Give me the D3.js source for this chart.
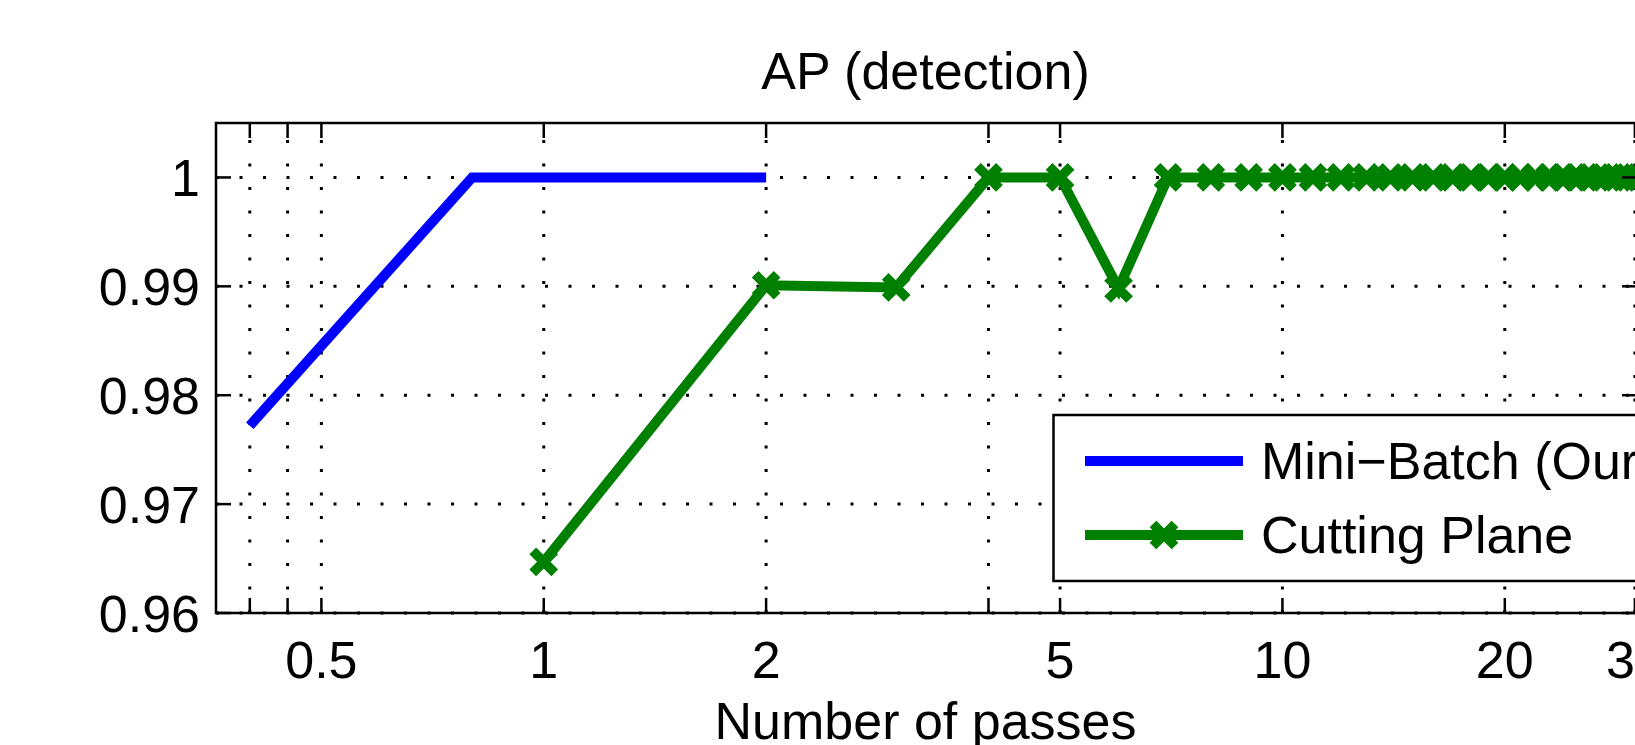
<!DOCTYPE html>
<html>
<head>
<meta charset="utf-8">
<script src="https://cdn.jsdelivr.net/npm/d3@7"></script>
<style>
  body { margin: 0; background: #fff; }
  svg text { font-family: "Liberation Sans", Arial, Helvetica, sans-serif; font-size: 52px; fill: #000; }
</style>
</head>
<body>
<svg id="chart" width="1635" height="745"></svg>
<script>
// ticks
const xTicks = [0.4, 0.45, 0.5, 1, 2, 4, 5, 10, 20, 30];
const xTickLabels = ["", "", "0.5", "1", "2", "", "5", "10", "20", "30"];
const yTicks = [0.96, 0.97, 0.98, 0.99, 1];
const yTickLabels = ["0.96", "0.97", "0.98", "0.99", "1"];

// series
const seriesNames = ["Mini\u2212Batch (Ours)", "Cutting Plane"];
const miniBatchPasses = [0.4, 0.8, 1.2, 1.6, 2];
const miniBatchAP = [0.9772, 1, 1, 1, 1];
const cuttingPlanePasses = [1, 2, 3, 4, 5, 6, 7, 8, 9, 10, 11, 12, 13, 14, 15,
  16, 17, 18, 19, 20, 21, 22, 23, 24, 25, 26, 27, 28, 29, 30];
const cuttingPlaneAP = [0.9647, 0.9901, 0.9899, 1, 1, 0.9898, 1, 1, 1, 1, 1, 1, 1, 1, 1,
  1, 1, 1, 1, 1, 1, 1, 1, 1, 1, 1, 1, 1, 1, 1];

const margin = {left: 216, right: 1637, top: 123, bottom: 613};
const blue = "#0000ff", green = "#008000";

const svg = d3.select("#chart");

const x = d3.scaleLog().domain([0.36, 30.2]).range([margin.left, margin.right]);
const y = d3.scaleLinear().domain([0.96, 1.005]).range([margin.bottom, margin.top]);

svg.append("clipPath").attr("id", "plotclip")
  .append("rect")
  .attr("x", margin.left).attr("y", margin.top)
  .attr("width", margin.right - margin.left).attr("height", margin.bottom - margin.top);

// dotted grid
const grid = svg.append("g")
  .attr("stroke", "#000").attr("stroke-width", 3).attr("stroke-dasharray", "3 20.5");
grid.selectAll("line.gx").data(xTicks).enter().append("line")
  .attr("x1", d => x(d)).attr("x2", d => x(d))
  .attr("y1", margin.bottom).attr("y2", margin.top);
grid.selectAll("line.gy").data(yTicks).enter().append("line")
  .attr("x1", margin.left).attr("x2", margin.right)
  .attr("y1", d => y(d)).attr("y2", d => y(d));

// lines
const line = d3.line().x(d => x(d[0])).y(d => y(d[1]));
const plot = svg.append("g").attr("clip-path", "url(#plotclip)");

plot.append("path")
  .datum(d3.zip(miniBatchPasses, miniBatchAP))
  .attr("d", line)
  .attr("fill", "none").attr("stroke", blue).attr("stroke-width", 10)
  .attr("stroke-linejoin", "miter");

const cp = d3.zip(cuttingPlanePasses, cuttingPlaneAP);
plot.append("path")
  .datum(cp)
  .attr("d", line)
  .attr("fill", "none").attr("stroke", green).attr("stroke-width", 10)
  .attr("stroke-linejoin", "miter");

const xMark = "M-11,-11L11,11M-11,11L11,-11";
svg.append("g").selectAll("path").data(cp).enter().append("path")
  .attr("d", xMark)
  .attr("transform", d => "translate(" + x(d[0]) + "," + y(d[1]) + ")")
  .attr("fill", "none").attr("stroke", green).attr("stroke-width", 9.5);

// axes box + ticks
const tickLen = 15;
const axes = svg.append("g").attr("stroke", "#000").attr("stroke-width", 2.5);
axes.append("rect")
  .attr("x", margin.left).attr("y", margin.top)
  .attr("width", margin.right - margin.left).attr("height", margin.bottom - margin.top)
  .attr("fill", "none");
xTicks.forEach(function(d) {
  axes.append("line").attr("x1", x(d)).attr("x2", x(d))
    .attr("y1", margin.bottom).attr("y2", margin.bottom - tickLen);
  axes.append("line").attr("x1", x(d)).attr("x2", x(d))
    .attr("y1", margin.top).attr("y2", margin.top + tickLen);
});
yTicks.forEach(function(d) {
  axes.append("line").attr("x1", margin.left).attr("x2", margin.left + tickLen)
    .attr("y1", y(d)).attr("y2", y(d));
  axes.append("line").attr("x1", margin.right).attr("x2", margin.right - tickLen)
    .attr("y1", y(d)).attr("y2", y(d));
});

// tick labels
svg.append("g").selectAll("text").data(xTicks).enter().append("text")
  .attr("x", d => x(d)).attr("y", margin.bottom + 65)
  .attr("text-anchor", "middle")
  .text((d, i) => xTickLabels[i]);
svg.append("g").selectAll("text").data(yTicks).enter().append("text")
  .attr("x", margin.left - 16).attr("y", d => y(d) + 19)
  .attr("text-anchor", "end")
  .text((d, i) => yTickLabels[i]);

// title and axis label
const cx = (margin.left + margin.right) / 2 - 1;
svg.append("text").attr("x", cx).attr("y", 89).attr("text-anchor", "middle").text("AP (detection)");
svg.append("text").attr("x", cx).attr("y", 739).attr("text-anchor", "middle").text("Number of passes");

// legend
const leg = svg.append("g");
leg.append("rect")
  .attr("x", 1053.5).attr("y", 415).attr("width", 700).attr("height", 166)
  .attr("fill", "#fff").attr("stroke", "#000").attr("stroke-width", 2.5);
const legY = [461, 535];
const legColors = [blue, green];
legY.forEach(function(ly, i) {
  leg.append("line").attr("x1", 1085).attr("x2", 1243).attr("y1", ly).attr("y2", ly)
    .attr("stroke", legColors[i]).attr("stroke-width", 10);
  leg.append("text").attr("x", 1261).attr("y", ly + 18).text(seriesNames[i]);
});
leg.append("path").attr("d", xMark)
  .attr("transform", "translate(1164," + legY[1] + ")")
  .attr("fill", "none").attr("stroke", green).attr("stroke-width", 9.5);
</script>
</body>
</html>
